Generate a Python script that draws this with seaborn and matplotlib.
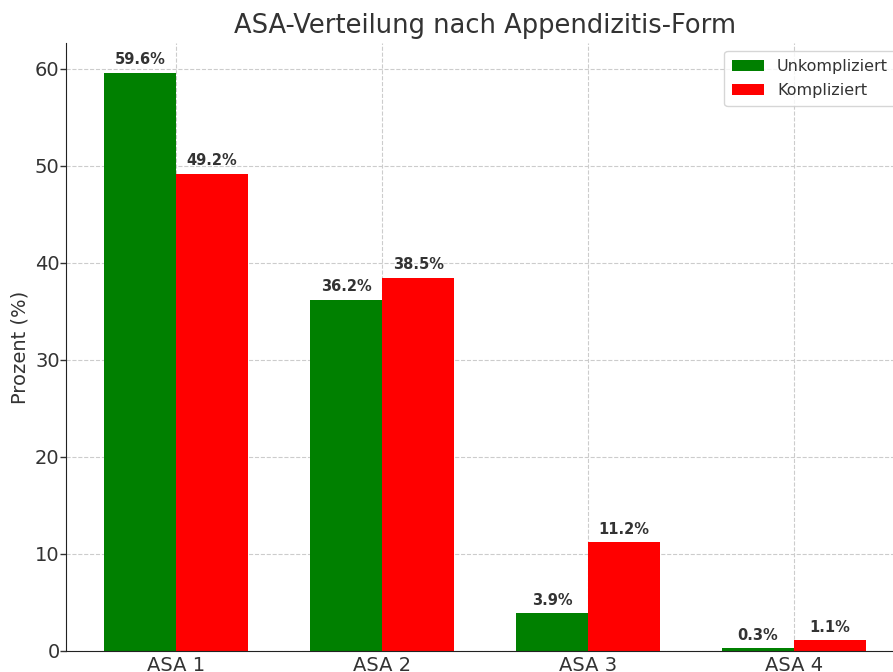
import pandas as pd
import seaborn as sns
from matplotlib import pyplot as plt

categories = ["ASA 1", "ASA 2", "ASA 3", "ASA 4"]
unkompliziert = [59.6, 36.2, 3.9, 0.3]
kompliziert = [49.2, 38.5, 11.2, 1.1]
groups = ["Unkompliziert", "Kompliziert"]
colors = ["green", "red"]


def main() -> int:
    df = pd.DataFrame({
        "ASA": categories * 2,
        "Gruppe": [groups[0]] * 4 + [groups[1]] * 4,
        "Prozent": unkompliziert + kompliziert,
    })

    sns.set_style("white")
    plt.rcParams["text.color"] = "#333333"
    plt.rcParams["axes.labelcolor"] = "#333333"

    fig = plt.figure(figsize=(8.93, 6.72), dpi=100)
    ax = fig.add_axes([66 / 893, 21 / 672, (904 - 66) / 893, (651 - 43) / 672])
    sns.barplot(data=df, x="ASA", y="Prozent", hue="Gruppe",
                palette=colors, saturation=1, width=0.7, linewidth=0, ax=ax)

    for cont in ax.containers:
        ax.bar_label(cont, fmt="%.1f%%", padding=4, fontsize=10.5,
                     fontweight="bold", color="#333333")

    ax.set_xlim(-0.535, 3.535)
    ax.set_ylim(0, 62.68)
    ax.set_title("ASA-Verteilung nach Appendizitis-Form", fontsize=18.5,
                 color="#333333", pad=7)
    ax.set_xlabel("")
    ax.set_ylabel("Prozent (%)", fontsize=14, labelpad=4)
    ax.tick_params(axis="both", labelsize=14, colors="#333333")
    ax.tick_params(axis="y", length=4, width=1, left=True, pad=0.5)
    ax.tick_params(axis="x", length=0)
    ax.grid(True, linestyle="--", color="#cccccc", linewidth=0.8)
    ax.set_axisbelow(True)
    sns.despine(ax=ax)
    for s in ["left", "bottom"]:
        ax.spines[s].set_color("#222222")
    ax.legend(loc="upper right", fontsize=11.5, frameon=True,
              borderpad=0.5, labelspacing=0.55)

    fig.savefig("out.png", dpi=100)
    return 0


if __name__ == '__main__':
    raise SystemExit(main())
